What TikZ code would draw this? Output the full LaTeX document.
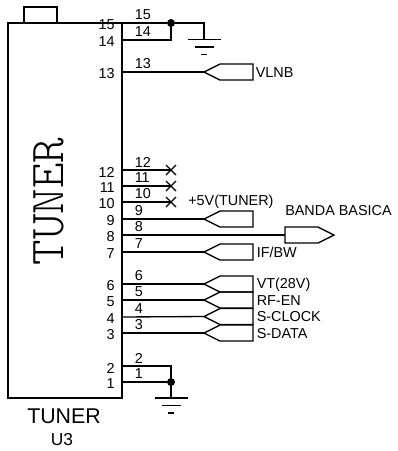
\documentclass[tikz,border=0pt]{standalone}
\usepackage{fontspec}
\setmainfont{Liberation Sans}
\usepackage{xcolor}
\definecolor{ink}{HTML}{000000}
\tikzset{
  wire/.style={draw=ink, line width=1pt, line join=miter},
  pinOut/.style={font=\fontsize{10.8}{12}\selectfont, anchor=east, inner sep=0pt},
  pinIn/.style={font=\fontsize{10.8}{12}\selectfont, anchor=west, inner sep=0pt},
  sigLbl/.style={font=\fontsize{10.8}{12}\selectfont, anchor=west, inner sep=0pt},
  dot/.style={circle, fill=ink, inner sep=0pt, minimum size=6pt},
}
% one pin: number, y of the wire, name of the far end
\newcommand{\TunerPin}[2]{%
  \coordinate (P#1) at (122,#2);
  \node[pinOut] (O#1) at (115,#2+2) {#1};
  \node[pinIn]  (I#1) at (134.5,#2-8) {#1};
}
% flag pointing left, tip at the end of the wire
\newcommand{\FlagLeft}[3]{%
  \coordinate (#1) at (#2,#3);
  \draw[wire] (#1)--++(16,-8)--++(33,0)--++(0,16)--++(-33,0)--cycle;
}
\newcommand{\GndSym}[1]{%
  \draw[wire] ($(#1)+(-16.5,0)$)--($(#1)+(16.5,0)$);
  \draw[wire] ($(#1)+(-9.5,7.5)$)--($(#1)+(9.5,7.5)$);
  \draw[wire] ($(#1)+(-3,15)$)--($(#1)+(3,15)$);
}
\newcommand{\NoConn}[1]{%
  \draw[wire] ($(#1)+(-5,-5)$)--($(#1)+(5,5)$);
  \draw[wire] ($(#1)+(-5,5)$)--($(#1)+(5,-5)$);
}
\usetikzlibrary{calc}

\begin{document}
\begin{tikzpicture}[x=0.75pt, y=-0.75pt]
  \useasboundingbox (0,0) rectangle (398,451);

  % body
  \draw[wire] (8,23) rectangle (122,398);
  \draw[wire] (24,7) rectangle (57,23);
  \node[rotate=90, font=\fontfamily{lmtt}\fontseries{l}\fontsize{36.5}{38}\selectfont] (tuner) at (48.5,201.5) {TUNER};
  \node[font=\fontsize{16}{18}\selectfont] (name) at (64,416) {TUNER};
  \node[font=\fontsize{13}{15}\selectfont] (ref) at (62,440) {U3};

  \TunerPin{15}{23}
  \TunerPin{14}{40}
  \TunerPin{13}{72}
  \TunerPin{12}{170}
  \TunerPin{11}{186}
  \TunerPin{10}{202}
  \TunerPin{9}{219}
  \TunerPin{8}{235}
  \TunerPin{7}{252}
  \TunerPin{6}{284}
  \TunerPin{5}{300}
  \TunerPin{4}{317}
  \TunerPin{3}{333}
  \TunerPin{2}{366}
  \TunerPin{1}{382}

  % ground at the top
  \coordinate (gndA) at (204,39.5);
  \node[dot] (dotA) at (171,23) {};
  \draw[wire] (P15)--(dotA)-|(gndA);
  \draw[wire] (P14)-|(dotA);
  \GndSym{gndA}

  % flags
  \FlagLeft{fVLNB}{204}{72}
  \draw[wire] (P13)--(fVLNB);
  \node[sigLbl] (lVLNB) at (255.5,73) {VLNB};

  \coordinate (x12) at (171,170);
  \coordinate (x11) at (171,186);
  \coordinate (x10) at (171,202);
  \draw[wire] (P12)--(x12);
  \draw[wire] (P11)--(x11);
  \draw[wire] (P10)--(x10);
  \NoConn{x12}
  \NoConn{x11}
  \NoConn{x10}

  \FlagLeft{fFive}{204}{219}
  \draw[wire] (P9)--(fFive);
  \node[sigLbl] (lFive) at (188,202) {+5V(TUNER)};

  \coordinate (fBB) at (285,235);
  \draw[wire] (P8)--(fBB);
  \draw[wire] (fBB)--++(0,-8)--++(33,0)--++(16,8)--++(-16,8)--++(-33,0)--cycle;
  \node[sigLbl] (lBB) at (285,211) {BANDA BASICA};

  \FlagLeft{fIF}{204}{252}
  \draw[wire] (P7)--(fIF);
  \node[sigLbl] (lIF) at (256.5,252.5) {IF/BW};

  \FlagLeft{fVT}{204}{284}
  \draw[wire] (P6)--(fVT);
  \node[sigLbl] (lVT) at (256.5,285) {VT(28V)};
  \FlagLeft{fRF}{204}{300}
  \draw[wire] (P5)--(fRF);
  \node[sigLbl] (lRF) at (256.5,301) {RF-EN};
  \FlagLeft{fCK}{204}{316.5}
  \draw[wire] (P4)--(fCK);
  \node[sigLbl] (lCK) at (256.5,317) {S-CLOCK};
  \FlagLeft{fDA}{204}{333}
  \draw[wire] (P3)--(fDA);
  \node[sigLbl] (lDA) at (256.5,333.5) {S-DATA};

  % ground at the bottom
  \coordinate (gndB) at (171,398);
  \node[dot] (dotB) at (171,382) {};
  \draw[wire] (P2)-|(gndB);
  \draw[wire] (P1)--(dotB);
  \GndSym{gndB}
\end{tikzpicture}
\end{document}
